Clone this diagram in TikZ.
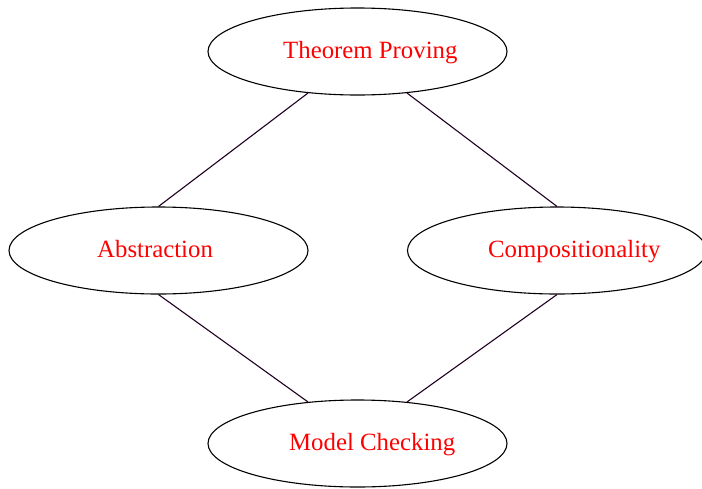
\documentclass[tikz,border=0pt]{standalone}
\usepackage{fontspec}
\setmainfont{Liberation Serif}
\usetikzlibrary{shapes.geometric}
\definecolor{edgecol}{HTML}{200020}
\begin{document}
\begin{tikzpicture}[x=1pt,y=-1pt,
  ell/.style={draw=black,line width=1.1pt,ellipse,inner sep=0pt,minimum width=299pt,minimum height=87pt},
  lbl/.style={anchor=base west,inner sep=0pt,text=red,font=\fontsize{24.8}{30}\selectfont},
  edge/.style={draw=edgecol,line width=1.1pt}]
\useasboundingbox (0,0) rectangle (702,488);
\node[ell] (tp) at (357.5,51.5) {};
\node[ell] (ab) at (158.5,250.5) {};
\node[ell] (co) at (557,250.5) {};
\node[ell] (mc) at (357.5,443.5) {};
\node[lbl] (tpl) at (283,58) {Theorem Proving};
\node[lbl] (abl) at (97,257) {Abstraction};
\node[lbl] (col) at (488,257) {Compositionality};
\node[lbl] (mcl) at (289,450) {Model Checking};
\draw[edge] (tp.220) -- (ab.north);
\draw[edge] (tp.320) -- (co.north);
\draw[edge] (ab.south) -- (mc.140);
\draw[edge] (co.south) -- (mc.40);
\end{tikzpicture}
\end{document}
